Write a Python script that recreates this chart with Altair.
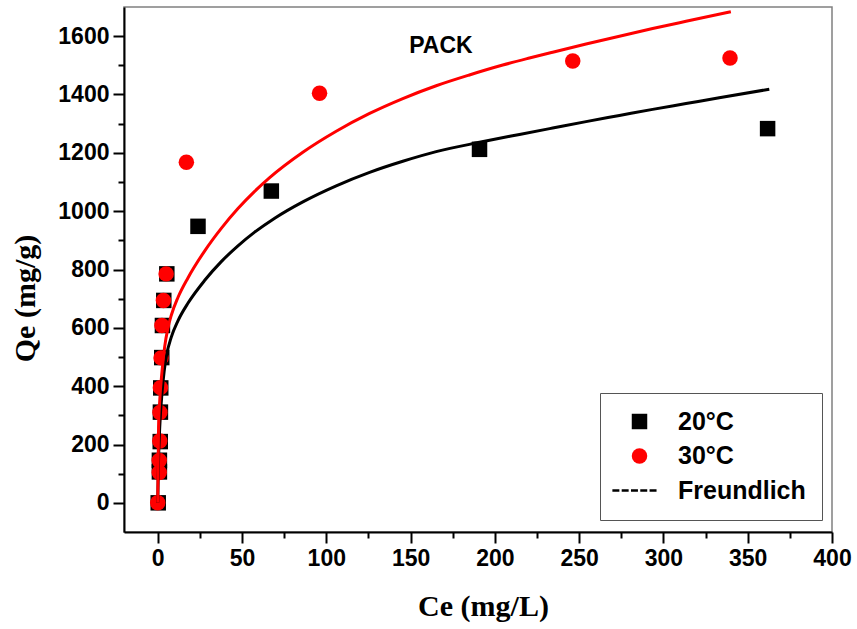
import altair as alt
import pandas as pd

# ---- measured equilibrium points -------------------------------------------
ce_20 = [0.3, 1.0, 1.0, 1.5, 1.6, 1.8, 2.4, 2.8, 3.6, 5.4, 23.9, 67.4, 190.9, 361.8]
qe_20 = [0, 106, 146, 210, 311, 394, 498, 608, 694, 785, 948, 1069, 1212, 1283]

ce_30 = [0.0, 0.9, 0.9, 1.2, 1.3, 1.6, 2.0, 2.5, 3.4, 5.0, 17.0, 96.0, 246.2, 339.5]
qe_30 = [0, 104, 145, 212, 310, 395, 497, 608, 694, 785, 1168, 1404, 1515, 1525]

# ---- Freundlich isotherm curves -------------------------------------------
fit20_ce = [0, 0.5, 1.2, 2.6, 3.8, 5.2, 8.1, 12, 18, 27.9, 37.7, 47.6, 57.5, 69.4,
            86.1, 105.9, 125.7, 145.4, 165.2, 190.9, 214.6, 234.3, 254.1, 273.9,
            293.6, 313.4, 333.1, 362.8]
fit20_qe = [0, 150, 260, 380, 450, 505, 569, 624, 685, 763, 827, 881, 928, 976,
            1032, 1087, 1133, 1171, 1204, 1236, 1263, 1285, 1307, 1328,
            1349, 1369, 1389, 1418]

fit30_ce = [0, 0.5, 1.2, 2.6, 4.1, 6.1, 8.1, 12, 18, 27.9, 37.7, 47.6, 57.5, 66.4,
            86.1, 105.9, 125.7, 145.4, 165.2, 184.9, 204.7, 220.5, 234.3, 254.1,
            273.9, 293.6, 313.4, 340]
fit30_qe = [0, 260, 350, 454, 534, 600, 644, 704, 772, 864, 941, 1009, 1068, 1115,
            1202, 1274, 1335, 1386, 1430, 1467, 1501, 1525, 1545, 1573,
            1600, 1626, 1651, 1684]

series_names = ["20°C", "30°C", "Freundlich"]
series_colors = ["black", "red", "black"]

annotation_text = ["PACK"]
annotation_ce = [168]
annotation_qe = [1565]

x_domain = [-20, 400]
y_domain = [-100, 1700]

# ---- tables ----------------------------------------------------------------
points = pd.concat([
    pd.DataFrame({"Ce": ce_20, "Qe": qe_20, "series": series_names[0]}),
    pd.DataFrame({"Ce": ce_30, "Qe": qe_30, "series": series_names[1]}),
], ignore_index=True)
fit20 = pd.DataFrame({"Ce": fit20_ce, "Qe": fit20_qe})
fit30 = pd.DataFrame({"Ce": fit30_ce, "Qe": fit30_qe})
notes = pd.DataFrame({"Ce": annotation_ce, "Qe": annotation_qe, "text": annotation_text})

# ---- styling ---------------------------------------------------------------
SANS = "Liberation Sans"
SERIF = "Liberation Serif"


def xs():
    return alt.Scale(domain=x_domain, nice=False, zero=False)


def ys():
    return alt.Scale(domain=y_domain, nice=False, zero=False)


# dashed-line glyph for the fit entry of the legend (five short bars)
dash_starts = [-3.5, -2.3, -1.1, 0.1, 1.3]
dash_len, dash_half = 0.9, 0.17
dash_path = " ".join(
    f"M{s:.2f},{-dash_half}H{s + dash_len:.2f}V{dash_half}H{s:.2f}Z" for s in dash_starts
)

major_x = alt.Axis(
    orient="bottom", values=list(range(0, 401, 50)), title="Ce (mg/L)", format="d",
    grid=False, domainColor="black", domainWidth=2, tickColor="black", tickWidth=2,
    tickSize=11, labelFont=SANS, labelFontWeight="bold", labelFontSize=23,
    labelColor="black", labelPadding=4, labelFlush=False,
    titleFont=SERIF, titleFontWeight="bold", titleFontSize=30, titleColor="black",
    titleX=359, titleY=74, titleBaseline="middle", titleAlign="center",
)
major_y = alt.Axis(
    orient="left", values=list(range(0, 1601, 200)), title="Qe (mg/g)", format="d",
    grid=False, domainColor="black", domainWidth=2, tickColor="black", tickWidth=2,
    tickSize=11, labelFont=SANS, labelFontWeight="bold", labelFontSize=23,
    labelColor="black", labelPadding=4, labelFlush=False,
    titleFont=SERIF, titleFontWeight="bold", titleFontSize=30, titleColor="black",
    titleX=-99, titleY=291, titleAngle=-90, titleBaseline="middle", titleAlign="center",
)
minor_x = alt.Axis(
    orient="bottom", values=list(range(25, 400, 50)), title=None, labels=False,
    domain=False, grid=False, tickColor="black", tickWidth=2, tickSize=6,
)
minor_y = alt.Axis(
    orient="left", values=list(range(100, 1700, 200)), title=None, labels=False,
    domain=False, grid=False, tickColor="black", tickWidth=2, tickSize=6,
)

legend = alt.Legend(
    title=None, orient="none", legendX=476, legendY=386,
    labelFont=SANS, labelFontWeight="bold", labelFontSize=25, labelColor="black",
    symbolSize=240, symbolStrokeWidth=0, symbolOpacity=1,
    symbolOffset=11, labelOffset=26, rowPadding=8.5, padding=16,
    strokeColor="#555555", fillColor="white",
)

# ---- layers ----------------------------------------------------------------
scatter = alt.Chart(points).mark_point(filled=True, size=240, opacity=1, strokeWidth=0).encode(
    x=alt.X("Ce:Q", scale=xs(), axis=major_x),
    y=alt.Y("Qe:Q", scale=ys(), axis=major_y),
    color=alt.Color("series:N", scale=alt.Scale(domain=series_names, range=series_colors),
                    legend=legend),
    shape=alt.Shape("series:N", scale=alt.Scale(domain=series_names,
                                                range=["square", "circle", dash_path]),
                    legend=legend),
)

line20 = alt.Chart(fit20).mark_line(color="black", strokeWidth=3, interpolate="monotone").encode(
    x=alt.X("Ce:Q", scale=xs(), axis=minor_x),
    y=alt.Y("Qe:Q", scale=ys(), axis=minor_y),
)

line30 = alt.Chart(fit30).mark_line(color="red", strokeWidth=3, interpolate="monotone").encode(
    x=alt.X("Ce:Q", scale=xs(), axis=None),
    y=alt.Y("Qe:Q", scale=ys(), axis=None),
)

label = alt.Chart(notes).mark_text(
    font=SANS, fontWeight="bold", fontSize=23, color="black", align="center", baseline="middle"
).encode(
    x=alt.X("Ce:Q", scale=xs(), axis=None),
    y=alt.Y("Qe:Q", scale=ys(), axis=None),
    text="text:N",
)

chart = (
    alt.layer(scatter, line20, line30, label)
    .resolve_scale(x="independent", y="independent")
    .properties(
        width=708, height=525,
        autosize=alt.AutoSizeParams(type="none"),
        padding={"left": 124, "top": 7, "right": 25, "bottom": 97},
        background="white",
    )
    .configure_view(stroke="#808080", strokeWidth=1.5)
)

chart.save("out.html", embed_options={"renderer": "svg", "actions": False})
